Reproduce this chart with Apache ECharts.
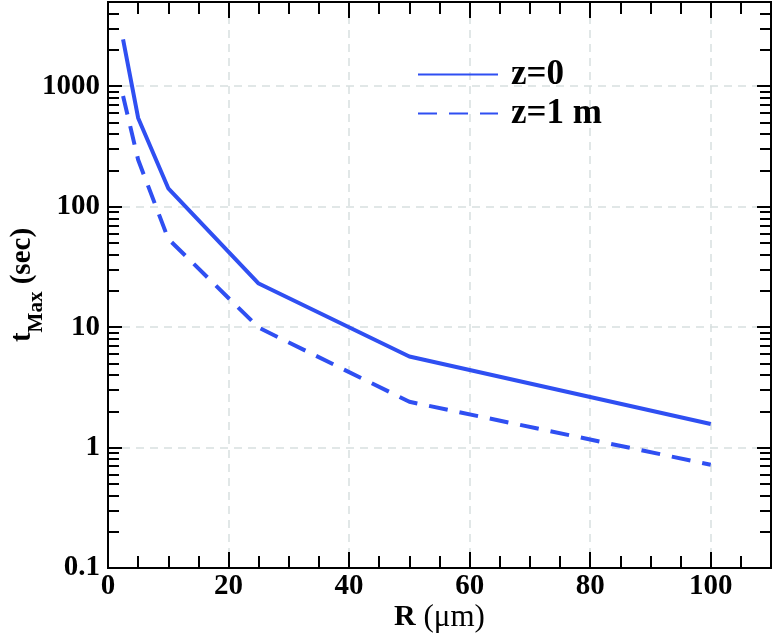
<!DOCTYPE html>
<html>
<head>
<meta charset="utf-8">
<script src="https://cdn.jsdelivr.net/npm/echarts@6/dist/echarts.min.js"></script>
<style>
html,body{margin:0;padding:0;background:#fff;}
#main{width:773px;height:633px;}
</style>
</head>
<body>
<div id="main"></div>
<script>
// values
let radius = [2.5, 5, 10, 25, 50, 100];          // R (um)
let tZ0 = [2450, 545, 142, 23, 5.7, 1.57];        // z=0
let tZ1 = [830, 245, 54, 9.9, 2.4, 0.72];         // z=1 m

let xMajor = [0, 20, 40, 60, 80, 100];
let xMinor = [5, 10, 15, 25, 30, 35, 45, 50, 55, 65, 70, 75, 85, 90, 95, 105];
let yMajor = [0.1, 1, 10, 100, 1000];
let yMinor = [0.2, 0.3, 0.4, 0.5, 0.6, 0.7, 0.8, 0.9,
              2, 3, 4, 5, 6, 7, 8, 9,
              20, 30, 40, 50, 60, 70, 80, 90,
              200, 300, 400, 500, 600, 700, 800, 900,
              2000, 3000, 4000];

let font = '"Liberation Serif", "Times New Roman", serif';
let blue = '#2f4ff2';

let myChart = echarts.init(document.getElementById('main'));

function xAx(pos, ticks, len, extra) {
    return Object.assign({
        type: 'value', min: 0, max: 110, interval: 20, position: pos,
        axisLine: {show: true, onZero: false, lineStyle: {color: '#000', width: 2}},
        axisTick: {show: true, inside: true, length: len, customValues: ticks, lineStyle: {color: '#000', width: 2}},
        axisLabel: {show: false},
        splitLine: {show: false}
    }, extra || {});
}
function yAx(pos, ticks, len, extra) {
    return Object.assign({
        type: 'log', logBase: 10, min: 0.1, max: 5000, position: pos,
        axisLine: {show: true, onZero: false, lineStyle: {color: '#000', width: 2}},
        axisTick: {show: true, inside: true, length: len, customValues: ticks, lineStyle: {color: '#000', width: 2}},
        axisLabel: {show: false},
        splitLine: {show: false}
    }, extra || {});
}

let option = {
    backgroundColor: '#fff',
    animation: false,
    grid: {left: 108, right: 2, top: 2, bottom: 65, containLabel: false, outerBoundsMode: 'none'},
    legend: {
        orient: 'vertical',
        left: 412,
        top: 52,
        itemWidth: 80,
        itemHeight: 14,
        itemGap: 4,
        itemStyle: {opacity: 0},
        textStyle: {fontFamily: font, fontWeight: 'bold', fontSize: 35, color: '#000', padding: [0, 0, 0, 8]},
        data: ['z=0', 'z=1 m']
    },
    xAxis: [
        xAx('bottom', xMajor, 16, {
            name: '{b|R}{r| (\u03bcm)}',
            nameLocation: 'middle',
            nameGap: 34,
            nameMoveOverlap: false,
            nameTextStyle: {
                rich: {
                    b: {fontFamily: font, fontWeight: 'bold', fontSize: 30, color: '#000'},
                    r: {fontFamily: font, fontSize: 31, color: '#000'}
                }
            },
            axisLabel: {
                show: true, customValues: xMajor, margin: 4,
                fontFamily: font, fontWeight: 'bold', fontSize: 29, color: '#000'
            },
            splitLine: {show: true, lineStyle: {color: '#d8dfdf', width: 1.5, type: [8, 6]}}
        }),
        xAx('bottom', xMinor, 12),
        xAx('top', xMajor, 16),
        xAx('top', xMinor, 12)
    ],
    yAxis: [
        yAx('left', yMajor, 14, {
            name: '{b|t}{s|Max}{b| (sec)}',
            nameLocation: 'middle',
            nameGap: 68,
            nameMoveOverlap: false,
            nameRotate: 90,
            nameTextStyle: {
                rich: {
                    b: {fontFamily: font, fontWeight: 'bold', fontSize: 29, color: '#000', lineHeight: 34},
                    s: {fontFamily: font, fontWeight: 'bold', fontSize: 21, color: '#000', lineHeight: 20, verticalAlign: 'bottom', padding: [0, 0, -7, 0]}
                }
            },
            axisLabel: {
                show: true, customValues: yMajor, margin: 8,
                fontFamily: font, fontWeight: 'bold', fontSize: 29, color: '#000',
                formatter: function (v) { return String(v); }
            },
            splitLine: {show: true, lineStyle: {color: '#d8dfdf', width: 1.5, type: [8, 6]}}
        }),
        yAx('left', yMinor, 11),
        yAx('right', yMajor, 14),
        yAx('right', yMinor, 11)
    ],
    series: [{
        name: 'z=0',
        type: 'line',
        showSymbol: false,
        symbol: 'none',
        color: blue,
        lineStyle: {color: blue, width: 4},
        data: radius.map(function (r, i) { return [r, tZ0[i]]; })
    }, {
        name: 'z=1 m',
        type: 'line',
        showSymbol: false,
        symbol: 'none',
        color: blue,
        lineStyle: {color: blue, width: 4, type: [19, 12]},
        data: radius.map(function (r, i) { return [r, tZ1[i]]; })
    }]
};
myChart.setOption(option);
</script>
</body>
</html>
